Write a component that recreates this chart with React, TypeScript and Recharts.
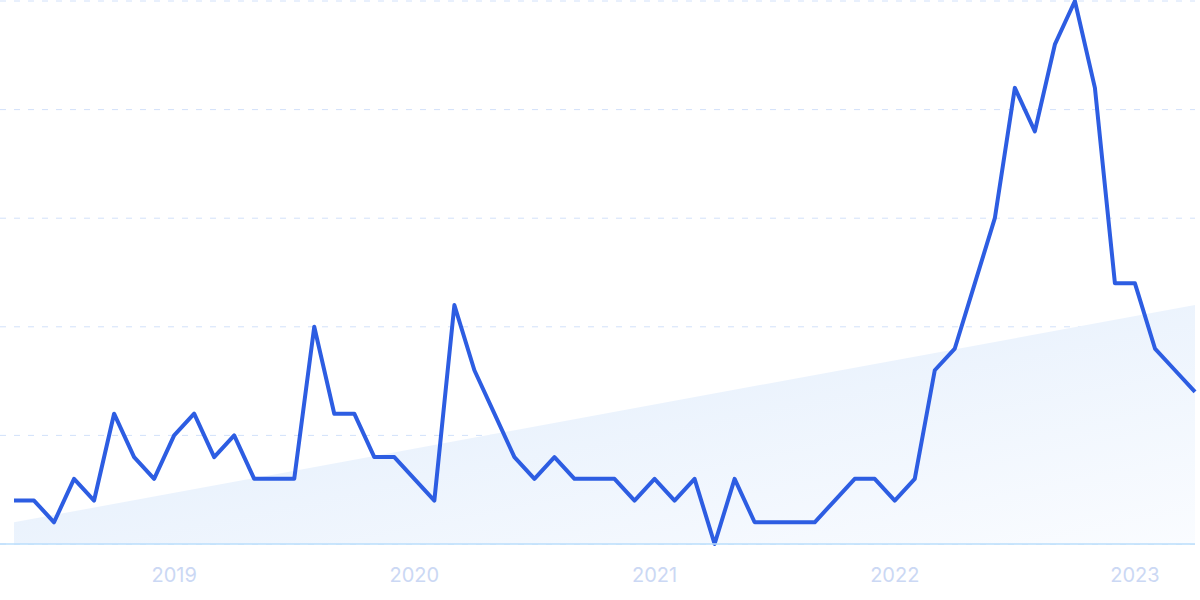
import { ComposedChart, Line, Area, XAxis, YAxis, CartesianGrid } from 'recharts'

// monthly points, May 2018 .. Apr 2023
const months = [
  '2018-05', '2018-06', '2018-07', '2018-08', '2018-09', '2018-10', '2018-11', '2018-12',
  '2019-01', '2019-02', '2019-03', '2019-04', '2019-05', '2019-06', '2019-07', '2019-08',
  '2019-09', '2019-10', '2019-11', '2019-12', '2020-01', '2020-02', '2020-03', '2020-04',
  '2020-05', '2020-06', '2020-07', '2020-08', '2020-09', '2020-10', '2020-11', '2020-12',
  '2021-01', '2021-02', '2021-03', '2021-04', '2021-05', '2021-06', '2021-07', '2021-08',
  '2021-09', '2021-10', '2021-11', '2021-12', '2022-01', '2022-02', '2022-03', '2022-04',
  '2022-05', '2022-06', '2022-07', '2022-08', '2022-09', '2022-10', '2022-11', '2022-12',
  '2023-01', '2023-02', '2023-03', '2023-04',
]

const interest = [
  8, 8, 4, 12, 8, 24, 16, 12, 20, 24,
  16, 20, 12, 12, 12, 40, 24, 24, 16, 16,
  12, 8, 44, 32, 24, 16, 12, 16, 12, 12,
  12, 8, 12, 8, 12, 0, 12, 4, 4, 4,
  4, 8, 12, 12, 8, 12, 32, 36, 48, 60,
  84, 76, 92, 100, 84, 48, 48, 36, 32, 28,
]

// trend line end points (first and last month)
const trendStart = 4
const trendEnd = 44

const yearTicks = ['2019-01', '2020-01', '2021-01', '2022-01', '2023-01']

const data = months.map((m, i) => ({
  month: m,
  value: interest[i],
  trend: i === 0 ? trendStart : i === months.length - 1 ? trendEnd : null,
}))

export default function App() {
  return (
    <div style={{ position: 'fixed', left: 0, top: 0, width: 1200, height: 600, background: '#FFFFFF' }}>
      <ComposedChart width={1200} height={600} data={data} margin={{ top: 1, right: 5, left: 0, bottom: 0 }}>
        <defs>
          <linearGradient id="trendFill" x1="0" y1="0" x2="1" y2="1">
            <stop offset="0%" stopColor="#DEEBFB" stopOpacity={1} />
            <stop offset="100%" stopColor="#FAFCFF" stopOpacity={1} />
          </linearGradient>
        </defs>

        <CartesianGrid vertical={false} stroke="#D2E1FA" strokeDasharray="6 8" />

        <XAxis
          dataKey="month"
          ticks={yearTicks}
          interval={0}
          tickFormatter={(v: string) => v.slice(0, 4)}
          padding={{ left: 14, right: 0 }}
          height={56}
          axisLine={{ stroke: '#BADEFB', strokeWidth: 1.5 }}
          tickLine={false}
          tickSize={0}
          tickMargin={24}
          tick={{ fontSize: 20, fill: '#CBD8F4', fontFamily: 'Inter, sans-serif' }}
        />
        <YAxis hide domain={[0, 100]} ticks={[0, 20, 40, 60, 80, 100]} />

        <Area
          dataKey="trend"
          type="linear"
          connectNulls
          stroke="none"
          fill="url(#trendFill)"
          fillOpacity={1}
          dot={false}
          activeDot={false}
          isAnimationActive={false}
        />
        <Line
          dataKey="value"
          type="linear"
          stroke="#2D5DE2"
          strokeWidth={4}
          strokeLinejoin="round"
          dot={false}
          activeDot={false}
          isAnimationActive={false}
        />
      </ComposedChart>
    </div>
  )
}
